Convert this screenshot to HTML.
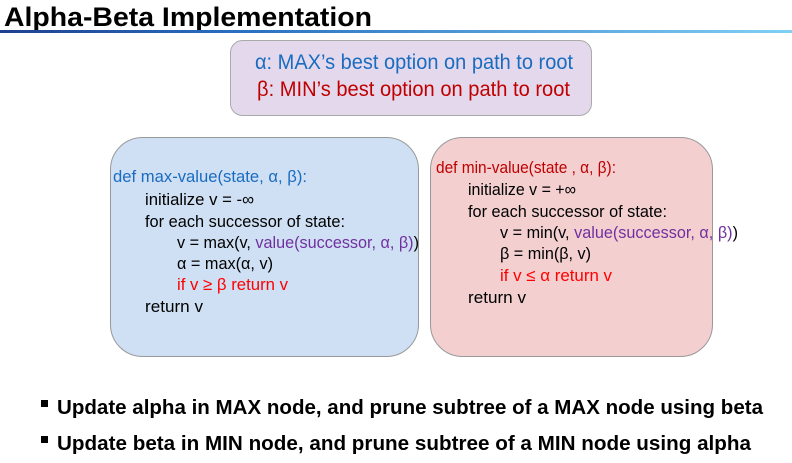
<!DOCTYPE html>
<html><head><meta charset="utf-8"><style>
html,body{margin:0;padding:0;background:#fff;width:792px;height:463px;overflow:hidden}
svg{display:block}
text{font-family:"Liberation Sans",sans-serif}
</style></head><body>
<svg width="792" height="463" viewBox="0 0 792 463" xmlns="http://www.w3.org/2000/svg">
<defs>
<linearGradient id="g" x1="0" x2="1" y1="0" y2="0">
<stop offset="0" stop-color="#1f3f8f"/><stop offset="0.3" stop-color="#2a6fc0"/><stop offset="1" stop-color="#7fd0f5"/>
</linearGradient>
</defs>
<text x="4" y="26" font-size="27" font-weight="bold" fill="#000" textLength="368" lengthAdjust="spacingAndGlyphs">Alpha-Beta Implementation</text>
<rect x="0" y="30" width="792" height="3" fill="url(#g)"/>

<rect x="230.5" y="40.5" width="361" height="75" rx="12" fill="#e4d9ec" stroke="#aaa"/>
<text x="255" y="69" font-size="21" fill="#1a6cc0" textLength="318" lengthAdjust="spacingAndGlyphs">α: MAX’s best option on path to root</text>
<text x="257" y="96" font-size="21" fill="#c00000" textLength="313" lengthAdjust="spacingAndGlyphs">β: MIN’s best option on path to root</text>

<rect x="110.5" y="137.5" width="308" height="219" rx="32" fill="#cfe0f4" stroke="#999"/>
<rect x="430.5" y="137.5" width="282" height="219" rx="32" fill="#f3cfd0" stroke="#999"/>

<g font-size="17">
<text x="113" y="182" fill="#1a6cc0" textLength="194" lengthAdjust="spacingAndGlyphs">def max-value(state, α, β):</text>
<text x="145" y="205" fill="#000" textLength="109" lengthAdjust="spacingAndGlyphs">initialize v = -∞</text>
<text x="145" y="227" fill="#000" textLength="200" lengthAdjust="spacingAndGlyphs">for each successor of state:</text>
<text x="177" y="248" fill="#000" textLength="242" lengthAdjust="spacingAndGlyphs">v = max(v, <tspan fill="#7030a0">value(successor, α, β)</tspan>)</text>
<text x="177" y="269" fill="#000" textLength="96" lengthAdjust="spacingAndGlyphs">α = max(α, v)</text>
<text x="177" y="290" fill="#ff0000" textLength="111" lengthAdjust="spacingAndGlyphs">if v ≥ β return v</text>
<text x="145" y="312" fill="#000" textLength="58" lengthAdjust="spacingAndGlyphs">return v</text>

<text x="436" y="173" fill="#c00000" textLength="180" lengthAdjust="spacingAndGlyphs">def min-value(state , α, β):</text>
<text x="468" y="195" fill="#000" textLength="108" lengthAdjust="spacingAndGlyphs">initialize v = +∞</text>
<text x="468" y="217" fill="#000" textLength="199" lengthAdjust="spacingAndGlyphs">for each successor of state:</text>
<text x="500" y="238" fill="#000" textLength="238" lengthAdjust="spacingAndGlyphs">v = min(v, <tspan fill="#7030a0">value(successor, α, β)</tspan>)</text>
<text x="500" y="259" fill="#000" textLength="91" lengthAdjust="spacingAndGlyphs">β = min(β, v)</text>
<text x="500" y="281" fill="#ff0000" textLength="112" lengthAdjust="spacingAndGlyphs">if v ≤ α return v</text>
<text x="468" y="303" fill="#000" textLength="58" lengthAdjust="spacingAndGlyphs">return v</text>
</g>

<rect x="41" y="400" width="7" height="7" fill="#000"/>
<text x="57" y="414" font-size="20" font-weight="bold" fill="#000" textLength="706" lengthAdjust="spacingAndGlyphs">Update alpha in MAX node, and prune subtree of a MAX node using beta</text>
<rect x="41" y="436" width="7" height="7" fill="#000"/>
<text x="57" y="450" font-size="20" font-weight="bold" fill="#000" textLength="694" lengthAdjust="spacingAndGlyphs">Update beta in MIN node, and prune subtree of a MIN node using alpha</text>
</svg>
</body></html>
